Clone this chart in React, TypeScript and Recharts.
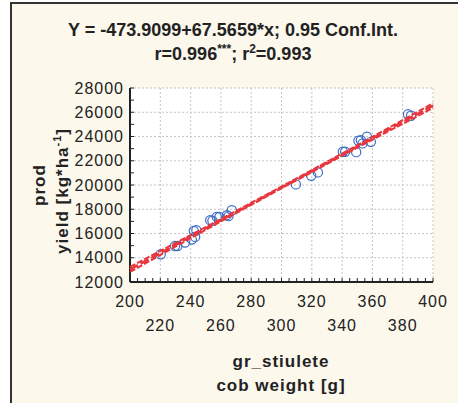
import { ScatterChart, Scatter, XAxis, YAxis, CartesianGrid } from "recharts";

// cob weight [g] vs yield [kg*ha-1]
const cobWeight = [
  220.3, 229.7, 231.3, 236.3, 240.8, 242.1, 243.8, 243.0, 252.9, 254.4,
  257.3, 259.0, 263.9, 265.0, 267.2, 309.5, 319.6, 324.0, 340.5, 342.0,
  349.3, 350.8, 352.4, 353.5, 356.4, 359.0, 383.5, 385.5,
];
const yieldKg = [
  14290, 14970, 14970, 15250, 15500, 16210, 16270, 15720, 17100, 17050,
  17370, 17370, 17510, 17430, 17920, 20050, 20760, 21040, 22740, 22740,
  22710, 23650, 23700, 23430, 23980, 23560, 25830, 25710,
];

// regression Y = -473.9099 + 67.5659*x
const intercept = -473.9099;
const slope = 67.5659;
const fitX = [200, 250, 300, 350, 400];
// half width of the 0.95 conf. band
const ciHalf = [210, 110, 70, 100, 190];

const xMajor = [200, 220, 240, 260, 280, 300, 320, 340, 360, 380, 400];
const yMajor = [12000, 14000, 16000, 18000, 20000, 22000, 24000, 26000, 28000];
const xMinor = Array.from({ length: 41 }, (_, i) => 200 + i * 5);
const yMinor = Array.from({ length: 17 }, (_, i) => 12000 + i * 1000);

const FONT = "'Liberation Sans', Arial, sans-serif";
const INK = "#222";
const RED = "#E8363C";
const BLUE = "#3B6CC4";

const points = cobWeight.map((x, i) => ({ x, y: yieldKg[i] }));
const fitLine = fitX.map((x) => ({ x, y: intercept + slope * x }));
const ciUpper = fitX.map((x, i) => ({ x, y: intercept + slope * x + ciHalf[i] }));
const ciLower = fitX.map((x, i) => ({ x, y: intercept + slope * x - ciHalf[i] }));

function XTick(props: any) {
  const { x, y, payload } = props;
  const idx = xMajor.indexOf(payload.value);
  if (idx < 0) return <g />;
  const row = idx % 2;
  return (
    <text
      x={x}
      y={y + 28.5 + row * 24}
      textAnchor="middle"
      fontSize={16}
      letterSpacing={1}
      fontFamily={FONT}
      fill={INK}
    >
      {payload.value}
    </text>
  );
}

function YTick(props: any) {
  const { x, y, payload } = props;
  if (!yMajor.includes(payload.value)) return <g />;
  return (
    <text
      x={x - 10}
      y={y}
      dy="0.35em"
      textAnchor="end"
      fontSize={16}
      letterSpacing={1}
      fontFamily={FONT}
      fill={INK}
    >
      {payload.value}
    </text>
  );
}

const noTick = () => <g />;

const Dot = (props: any) => (
  <circle cx={props.cx} cy={props.cy} r={4.6} fill="none" stroke={BLUE} strokeWidth={1.2} />
);

export default function App() {
  return (
    <div style={{ position: "absolute", left: 0, top: 0, width: 458, height: 403, background: "#fff", overflow: "hidden" }}>
      <div
        style={{
          position: "absolute",
          left: 10,
          top: 2,
          width: 446,
          height: 420,
          background: "#FCF8EC",
          borderLeft: "2px solid #333",
          borderTop: "2px solid #333",
          borderRight: "1px solid #999",
        }}
      />
      <div style={{ position: "absolute", left: 0, top: 0 }}>
        <ScatterChart width={458} height={403} margin={{ top: 88, right: 25, bottom: 91, left: 70 }}>
          <CartesianGrid
            fill="#fff"
            stroke="#c4c4c4"
            strokeDasharray="2 2"
            verticalValues={xMajor}
            horizontalValues={yMajor}
          />
          <XAxis
            dataKey="x"
            type="number"
            domain={[200, 400]}
            ticks={xMinor}
            interval={0}
            tickSize={-4}
            tickMargin={0}
            height={30}
            tick={XTick}
            axisLine={{ stroke: INK, strokeWidth: 2 }}
            tickLine={{ stroke: INK }}
          />
          <XAxis
            xAxisId="top"
            orientation="top"
            type="number"
            domain={[200, 400]}
            ticks={xMinor}
            interval={0}
            tickSize={-4}
            height={0}
            tick={noTick}
            axisLine={{ stroke: INK, strokeWidth: 2 }}
            tickLine={{ stroke: INK }}
          />
          <YAxis
            dataKey="y"
            type="number"
            domain={[12000, 28000]}
            ticks={yMinor}
            interval={0}
            tickSize={-4}
            tickMargin={0}
            width={60}
            tick={YTick}
            axisLine={{ stroke: INK, strokeWidth: 2 }}
            tickLine={{ stroke: INK }}
          />
          <YAxis
            yAxisId="right"
            orientation="right"
            type="number"
            domain={[12000, 28000]}
            ticks={yMinor}
            interval={0}
            tickSize={-4}
            width={0}
            tick={noTick}
            axisLine={{ stroke: INK, strokeWidth: 2 }}
            tickLine={{ stroke: INK }}
          />
          <Scatter data={points} shape={Dot} isAnimationActive={false} />
          <Scatter
            data={ciUpper}
            shape={noTick}
            line={{ stroke: RED, strokeWidth: 2, strokeDasharray: "6 2" }}
            lineType="joint"
            isAnimationActive={false}
          />
          <Scatter
            data={ciLower}
            shape={noTick}
            line={{ stroke: RED, strokeWidth: 2, strokeDasharray: "6 2" }}
            lineType="joint"
            isAnimationActive={false}
          />
          <Scatter
            data={fitLine}
            shape={noTick}
            line={{ stroke: RED, strokeWidth: 2.5, strokeDasharray: "9 3" }}
            lineType="joint"
            isAnimationActive={false}
          />
        </ScatterChart>
      </div>
      <svg
        width={458}
        height={403}
        style={{ position: "absolute", left: 0, top: 0, pointerEvents: "none" }}
        fontFamily={FONT}
        fill={INK}
      >
        <text x={233} y={36} textAnchor="middle" fontSize={18} fontWeight="bold">
          Y = -473.9099+67.5659*x; 0.95 Conf.Int.
        </text>
        <text x={233} y={60} textAnchor="middle" fontSize={18} fontWeight="bold">
          r=0.996
          <tspan fontSize={12} dy={-7}>***</tspan>
          <tspan dy={7}>; r</tspan>
          <tspan fontSize={12} dy={-7}>2</tspan>
          <tspan dy={7}>=0.993</tspan>
        </text>
        <text x={281} y={367} textAnchor="middle" fontSize={17} fontWeight="bold" letterSpacing={1}>
          gr_stiulete
        </text>
        <text x={281} y={391} textAnchor="middle" fontSize={17} fontWeight="bold" letterSpacing={1}>
          cob weight [g]
        </text>
        <text
          transform="translate(45,185) rotate(-90)"
          textAnchor="middle"
          fontSize={17}
          fontWeight="bold"
          letterSpacing={1}
        >
          prod
        </text>
        <text
          transform="translate(68,191) rotate(-90)"
          textAnchor="middle"
          fontSize={17}
          fontWeight="bold"
          letterSpacing={1}
        >
          yield [kg*ha
          <tspan fontSize={11} dy={-7}>-1</tspan>
          <tspan dy={7}>]</tspan>
        </text>
      </svg>
    </div>
  );
}
